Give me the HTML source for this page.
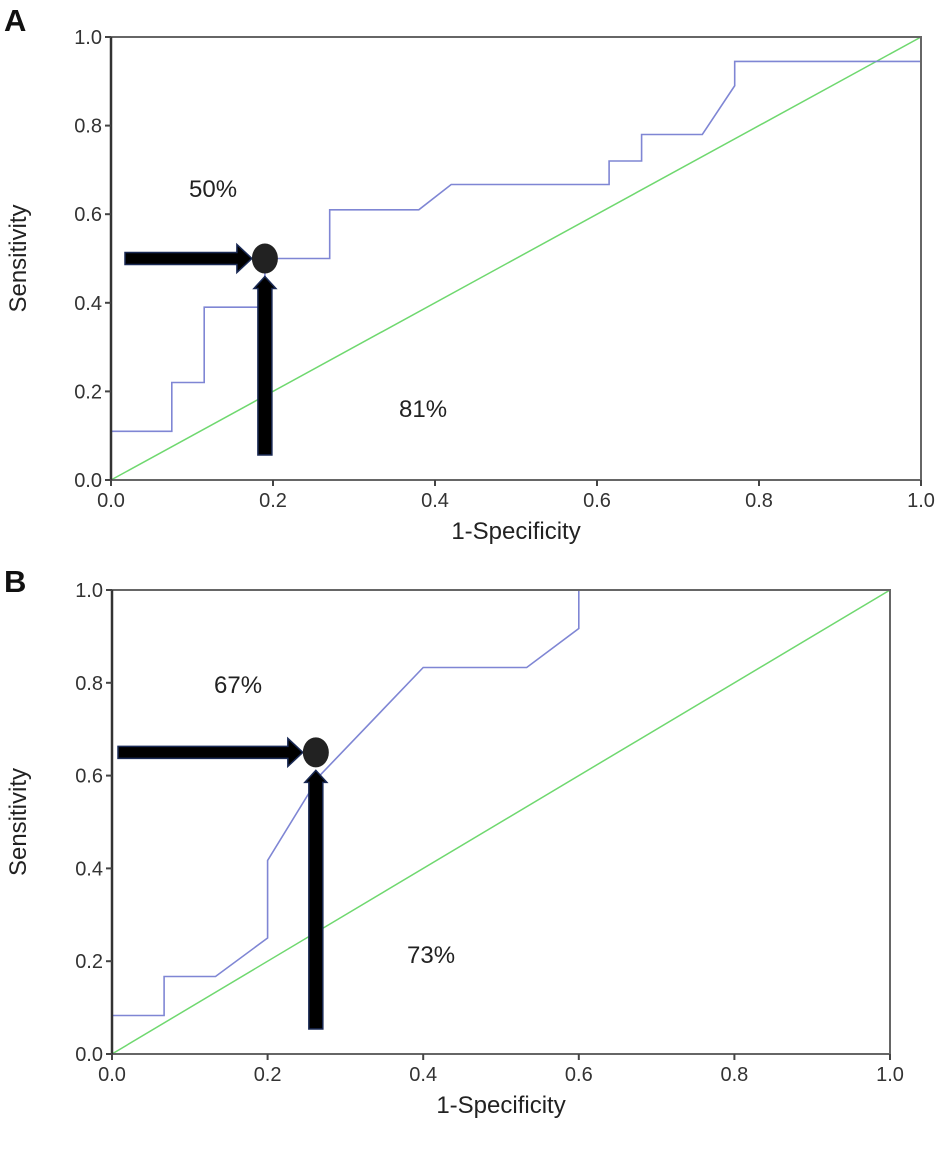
<!DOCTYPE html>
<html><head><meta charset="utf-8"><style>
html,body{margin:0;padding:0;background:#fff;}
svg{display:block;font-family:"Liberation Sans",Arial,sans-serif;}
</style></head><body>
<svg id="chart" width="945" height="1153" viewBox="0 0 945 1153"></svg>
<script>
const tickValues = [0, 0.2, 0.4, 0.6, 0.8, 1.0];
const tickLabels = ["0.0","0.2","0.4","0.6","0.8","1.0"];
const rocAx = [0,0,0.075,0.075,0.115,0.115,0.19,0.19,0.27,0.27,0.38,0.42,0.615,0.615,0.655,0.655,0.73,0.77,0.77,1,1];
const rocAy = [0,0.11,0.11,0.22,0.22,0.39,0.39,0.5,0.5,0.61,0.61,0.667,0.667,0.72,0.72,0.78,0.78,0.89,0.945,0.945,1];
const rocBx = [0,0,0.067,0.067,0.133,0.2,0.2,0.267,0.4,0.533,0.6,0.6,1];
const rocBy = [0,0.083,0.083,0.167,0.167,0.25,0.417,0.6,0.833,0.833,0.917,1,1];
const cutA = [0.19, 0.5];
const cutB = [0.262, 0.65];
const labelsA = ["50%","81%"];
const labelsB = ["67%","73%"];

const NS="http://www.w3.org/2000/svg";
const svg=document.getElementById('chart');
function mk(tag,attrs,parent){const e=document.createElementNS(NS,tag);for(const k in attrs)e.setAttribute(k,attrs[k]);(parent||svg).appendChild(e);return e;}

function panel(cfg){
  const g=mk('g',{});
  
  
  const X=v=>cfg.x0+v*(cfg.x1-cfg.x0);
  const Y=v=>cfg.y0-v*(cfg.y0-cfg.y1);
  const lt=mk('text',{x:cfg.lx,y:cfg.ly,'font-size':31,'font-weight':'bold',fill:'#111'},g);
  lt.textContent=cfg.id;
  
  
  const d=mk('line',{x1:X(0),y1:Y(0),x2:X(1),y2:Y(1),stroke:'#6fd86f','stroke-width':1.5},g);
  
  
  const pts=cfg.rx.map((v,i)=>X(v).toFixed(1)+','+Y(cfg.ry[i]).toFixed(1)).join(' ');
  const pl=mk('polyline',{points:pts,fill:'none',stroke:'#7f86d4','stroke-width':1.6},g);
  
  
  const fr=mk('rect',{x:cfg.x0,y:cfg.y1,width:cfg.x1-cfg.x0,height:cfg.y0-cfg.y1,fill:'none',stroke:'#666','stroke-width':2},g);
  
  
  mk('line',{x1:cfg.x0,y1:cfg.y1,x2:cfg.x0,y2:cfg.y0,stroke:'#333','stroke-width':2.5},g);
  tickValues.forEach((v,i)=>{
    mk('line',{x1:X(v),y1:cfg.y0,x2:X(v),y2:cfg.y0+6,stroke:'#444','stroke-width':2},g);
    mk('line',{x1:cfg.x0-6,y1:Y(v),x2:cfg.x0,y2:Y(v),stroke:'#444','stroke-width':2},g);
    const tx=mk('text',{x:X(v),y:cfg.y0+27,'font-size':20,'text-anchor':'middle',fill:'#333'},g);
    tx.textContent=tickLabels[i];
    
    
    const ty=mk('text',{x:cfg.x0-9,y:Y(v)+7,'font-size':20,'text-anchor':'end',fill:'#333'},g);
    ty.textContent=tickLabels[i];
    
    
  });
  const xt=mk('text',{x:(cfg.x0+cfg.x1)/2,y:cfg.y0+59,'font-size':24,'text-anchor':'middle',fill:'#222'},g);
  xt.textContent='1-Specificity';
  
  
  const yc=(cfg.y0+cfg.y1)/2;
  const yt=mk('text',{x:26,y:yc,'font-size':24,'text-anchor':'middle',fill:'#222',transform:'rotate(-90 26 '+yc+')'},g);
  yt.textContent='Sensitivity';
  
  
  const cx=X(cfg.cut[0]), cy=Y(cfg.cut[1]);
  const ha=mk('path',{d:`M${cfg.hx} ${cy-6} L${cx-28} ${cy-6} L${cx-28} ${cy-14} L${cx-13} ${cy} L${cx-28} ${cy+14} L${cx-28} ${cy+6} L${cfg.hx} ${cy+6} Z`,fill:'#000',stroke:'#1a2a55','stroke-width':1.5},g);
  
  
  const vb=cfg.y0-25;
  const va=mk('path',{d:`M${cx-7} ${vb} L${cx-7} ${cy+30} L${cx-11} ${cy+30} L${cx} ${cy+18} L${cx+11} ${cy+30} L${cx+7} ${cy+30} L${cx+7} ${vb} Z`,fill:'#000',stroke:'#1a2a55','stroke-width':1.5},g);
  
  
  const dot=mk('ellipse',{cx:cx,cy:cy,rx:13,ry:15,fill:'#222'},g);
  
  
  const t1=mk('text',{x:cfg.t1[0],y:cfg.t1[1],'font-size':24,fill:'#222'},g);
  t1.textContent=cfg.labels[0];
  
  
  const t2=mk('text',{x:cfg.t2[0],y:cfg.t2[1],'font-size':24,fill:'#222'},g);
  t2.textContent=cfg.labels[1];
  
  
}
panel({id:'A',lx:4,ly:31,x0:111,x1:921,y0:480,y1:37,rx:rocAx,ry:rocAy,cut:cutA,hx:125,labels:labelsA,t1:[189,197],t2:[399,417]});
panel({id:'B',lx:4,ly:592,x0:112,x1:890,y0:1054,y1:590,rx:rocBx,ry:rocBy,cut:cutB,hx:118,labels:labelsB,t1:[214,693],t2:[407,963]});
</script>
</body></html>
